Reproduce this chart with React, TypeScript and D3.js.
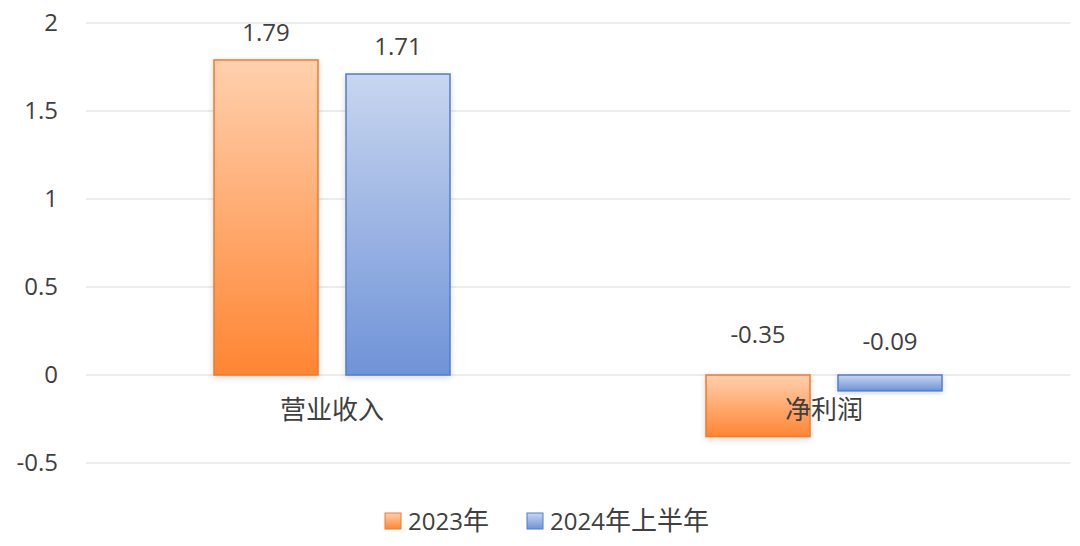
import React from "react";
import * as d3 from "d3";

const categories = ["营业收入", "净利润"];
const seriesNames = ["2023年", "2024年上半年"];
const values2023 = [1.79, -0.35];
const values2024H1 = [1.71, -0.09];
const yTicks = [-0.5, 0, 0.5, 1, 1.5, 2];

const W = 1080;
const H = 546;
const FONT = "'Open Sans', 'Noto Sans CJK SC', sans-serif";
const FS = 24;
const FS_CJK = 26;

export default function App() {
  const x0 = d3.scaleBand<string>().domain(categories).range([86, 1070]).paddingInner(0).paddingOuter(0);
  const y = d3.scaleLinear().domain([-0.5, 2]).range([463, 23]);
  const series = [
    { name: seriesNames[0], values: values2023, grad: "gO", stroke: "#F07A2C", light: "#FFD0AE", dark: "#FF8533", negOff: 32 },
    { name: seriesNames[1], values: values2024H1, grad: "gB", stroke: "#4F7CD0", light: "#C8D6EF", dark: "#6F93D8", negOff: 25 },
  ];
  const barW = 104;
  const gap = 28;
  const offsets = [-(gap / 2 + barW), gap / 2];

  return (
    <svg width={W} height={H} style={{ position: "fixed", left: 0, top: 0, background: "#fff" }} fontFamily={FONT}>
      <defs>
        {series.map((s) => (
          <linearGradient key={s.grad} id={s.grad} x1="0" y1="0" x2="0" y2="1">
            <stop offset="0%" stopColor={s.light} />
            <stop offset="100%" stopColor={s.dark} />
          </linearGradient>
        ))}
        <filter id="sh" x="-20%" y="-20%" width="140%" height="140%">
          <feDropShadow dx="0" dy="2" stdDeviation="3" floodColor="#000" floodOpacity="0.15" />
        </filter>
      </defs>
      {yTicks.map((t) => (
        <g key={t}>
          <line x1={86} x2={1070} y1={y(t)} y2={y(t)} stroke="#D9D9D9" strokeWidth={1} />
          <text x={58} y={y(t)} dy="0.35em" textAnchor="end" fontSize={FS} fill="#404040">
            {t}
          </text>
        </g>
      ))}
      {categories.map((c, i) => {
        const cx = (x0(c) as number) + x0.bandwidth() / 2;
        return (
          <g key={c}>
            {series.map((s, j) => {
              const v = s.values[i];
              const bx = cx + offsets[j];
              const top = Math.min(y(v), y(0));
              const h = Math.abs(y(v) - y(0));
              return (
                <g key={s.name}>
                  <rect x={bx} y={top} width={barW} height={h} fill={`url(#${s.grad})`} stroke={s.stroke} strokeWidth={1.5} filter="url(#sh)" />
                  <text x={bx + barW / 2} y={v >= 0 ? y(v) - 19 : y(0) - s.negOff} textAnchor="middle" fontSize={FS} fill="#404040">
                    {v.toFixed(2)}
                  </text>
                </g>
              );
            })}
            <text x={cx} y={419} textAnchor="middle" fontSize={FS_CJK} fill="#404040">
              {c}
            </text>
          </g>
        );
      })}
      {series.map((s, j) => {
        const lx = j === 0 ? 385 : 527;
        return (
          <g key={s.name}>
            <rect x={lx} y={513} width={16} height={16} fill={`url(#${s.grad})`} stroke={s.stroke} strokeWidth={1} />
            <text x={lx + 23} y={530} fontSize={FS} fill="#404040">
              {s.name.split(/([^\d]+)/).filter(Boolean).map((part, k) => (
                <tspan key={k} fontSize={/\d/.test(part) ? FS : FS_CJK}>{part}</tspan>
              ))}
            </text>
          </g>
        );
      })}
    </svg>
  );
}
